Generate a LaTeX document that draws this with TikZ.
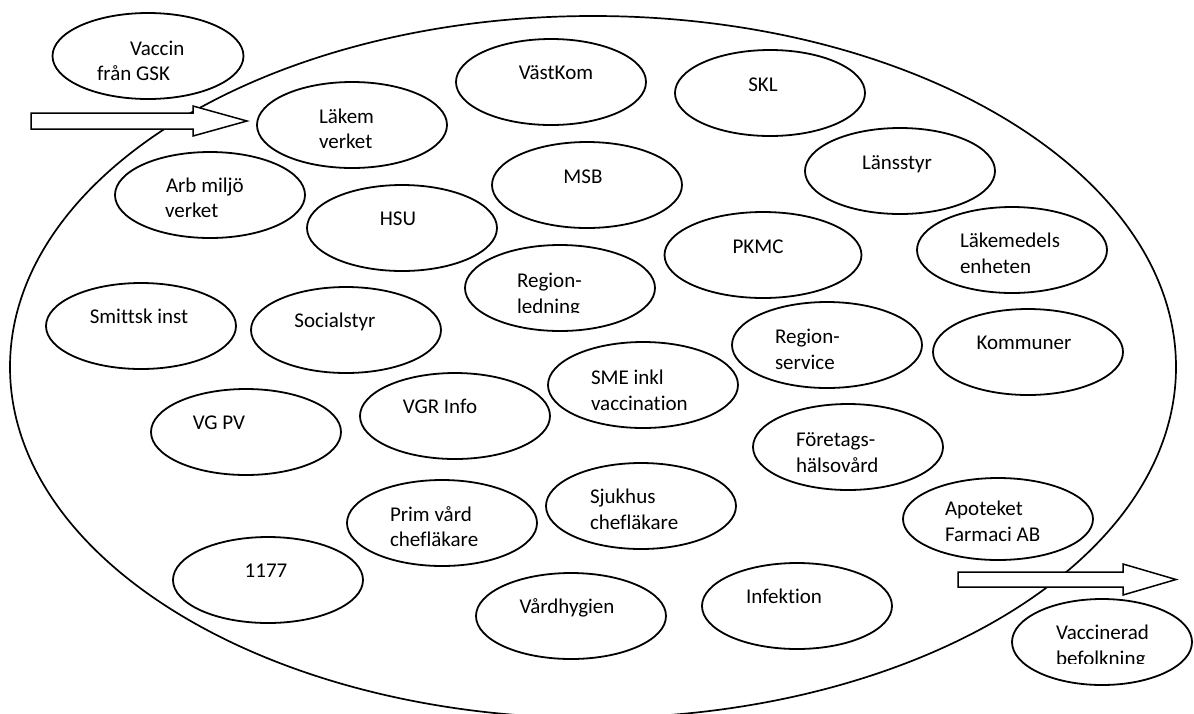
\documentclass[tikz,border=0pt]{standalone}
\usepackage{fontspec}
\setmainfont{Carlito}[Ligatures=NoCommon]
\usetikzlibrary{shapes.geometric}
\begin{document}
\begin{tikzpicture}[x=1pt,y=-1pt,
  oval/.style={draw, ellipse, line width=1.8pt, minimum width=190pt, minimum height=86pt, inner sep=0pt, outer sep=0pt, fill=white},
  lbl/.style={inner sep=0pt, outer sep=0pt, font=\fontsize{21}{25}\selectfont, anchor=base},
  lbll/.style={lbl, anchor=base west},
  blockarrow/.style={draw, line width=1.5pt, fill=white, line join=miter}]
\useasboundingbox (0,0) rectangle (1194,713);
% outer ring
\node[draw, ellipse, line width=1.7pt, minimum width=1166pt, minimum height=702pt, inner sep=0pt] (ring) at (593,367) {};

% ellipses
\node[oval, minimum width=191pt] (gsk) at (148,56) {};
\node[oval] (lakem) at (352,125) {};
\node[oval] (arb) at (210,195) {};
\node[oval] (vastkom) at (551,82) {};
\node[oval] (skl) at (770,93) {};
\node[oval] (msb) at (587,185) {};
\node[oval] (lans) at (900,171) {};
\node[oval] (hsu) at (402,228) {};
\node[oval] (regled) at (560,288) {};
\node[oval, minimum width=197pt] (pkmc) at (763,255) {};
\node[oval] (lmenh) at (1012,250) {};
\node[oval] (smitt) at (141,326) {};
\node[oval] (soc) at (346,330) {};
\node[oval] (vgpv) at (246,432) {};
\node[oval] (vgrinfo) at (455,416) {};
\node[oval] (sme) at (643,385) {};
\node[oval] (regserv) at (827,345) {};
\node[oval] (komm) at (1028,352) {};
\node[oval] (foretag) at (848,447) {};
\node[oval] (sjukhus) at (641,506) {};
\node[oval, minimum height=82pt] (apotek) at (998,519) {};
\node[oval] (prim) at (442,523) {};
\node[oval] (n1177) at (268,580) {};
\node[oval] (vardhyg) at (571,616) {};
\node[oval] (infek) at (797,606) {};
\node[oval, minimum width=180pt] (vaccpop) at (1102,642) {};

% labels
\node[lbll] (tgskA) at (130,55) {Vaccin};
\node[lbll] (tgskB) at (97,80) {från GSK};
\node[lbll] (tlakA) at (319,123) {Läkem};
\node[lbll] (tlakB) at (319,148) {verket};
\node[lbll] (tarbA) at (166,192) {Arb miljö};
\node[lbll] (tarbB) at (165,217) {verket};
\node[lbl] (tvast) at (556,79) {VästKom};
\node[lbl] (tskl) at (763,91) {SKL};
\node[lbl] (tmsb) at (583,183) {MSB};
\node[lbl] (tlans) at (897,169) {Länsstyr};
\node[lbl] (thsu) at (398,225) {HSU};
\node[lbll] (tregA) at (517,287) {Region-};
\begin{scope}
\clip (455,250) rectangle (670,312.5);
\node[lbll] (tregB) at (517,313) {ledning};
\end{scope}
\node[lbl] (tpkmc) at (758,253) {PKMC};
\node[lbll] (tlmA) at (960,247) {Läkemedels};
\node[lbll] (tlmB) at (960,273) {enheten};
\node[lbl] (tsmitt) at (139,323) {Smittsk inst};
\node[lbl] (tsoc) at (335,327) {Socialstyr};
\node[lbl] (tvgpv) at (219,429) {VG PV};
\node[lbl] (tvgr) at (440,413) {VGR Info};
\node[lbll] (tsmeA) at (591,384) {SME inkl};
\node[lbll] (tsmeB) at (591,410) {vaccination};
\node[lbll] (trsA) at (775,343) {Region-};
\node[lbll] (trsB) at (775,369) {service};
\node[lbl] (tkomm) at (1024,349) {Kommuner};
\node[lbll] (tfhA) at (796,446) {Företags-};
\node[lbll] (tfhB) at (796,472) {hälsovård};
\node[lbll] (tsjA) at (590,503) {Sjukhus};
\node[lbll] (tsjB) at (590,529) {chefläkare};
\node[lbll] (tapA) at (945,515) {Apoteket};
\node[lbll] (tapB) at (945,541) {Farmaci AB};
\node[lbll] (tprA) at (390,521) {Prim vård};
\node[lbll] (tprB) at (390,546) {chefläkare};
\node[lbl] (t1177) at (266,577) {1177};
\node[lbl] (tvard) at (567,613) {Vårdhygien};
\node[lbl] (tinf) at (784,603) {Infektion};
\node[lbll] (tvpA) at (1056,639) {Vaccinerad};
\begin{scope}
\clip (1010,600) rectangle (1194,663);
\node[lbll] (tvpB) at (1056,665) {befolkning};
\end{scope}

% block arrows
\coordinate (inTailT) at (31,113);
\coordinate (inTailB) at (31,129);
\coordinate (inTip) at (247,121);
\draw[blockarrow] (inTailT) -- (193,113) -- (193,106) -- (inTip) -- (193,136) -- (193,129) -- (inTailB) -- cycle;
\coordinate (outTailT) at (958,572);
\coordinate (outTailB) at (958,587);
\coordinate (outTip) at (1176,579.5);
\draw[blockarrow] (outTailT) -- (1123,572) -- (1123,564) -- (outTip) -- (1123,595) -- (1123,587) -- (outTailB) -- cycle;
\end{tikzpicture}
\end{document}
